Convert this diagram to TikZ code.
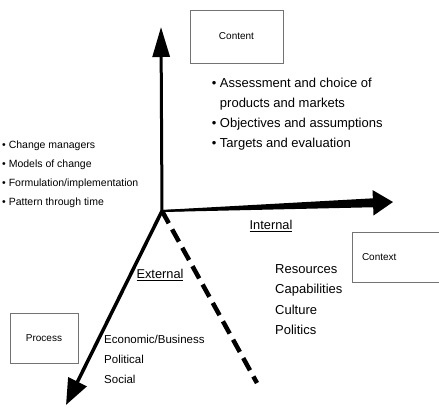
\documentclass[tikz,border=0pt]{standalone}
\usepackage{fontspec}
\setmainfont{Liberation Sans}
\usepackage{tikz}
\usetikzlibrary{arrows.meta, positioning, calc}
\tikzset{
    box/.style={rectangle, draw=black!55, line width=0.8pt, minimum width=93pt, minimum height=53pt, text centered, font=\fontsize{10}{12}\selectfont},
    axis/.style={line width=3pt, -{Triangle[length=30pt,width=17pt]}},
    list/.style={align=left, inner sep=0pt, anchor=north west},
    side/.style={inner sep=0pt, font=\fontsize{12.8}{15}\selectfont}
}

\begin{document}
\begin{tikzpicture}[x=1pt, y=-1pt]
    \useasboundingbox (0,0) rectangle (439,407);
    \coordinate (o) at (162,211);
    \coordinate (up) at (161,27);
    \coordinate (rt) at (393,202);
    \coordinate (dl) at (66,405);
    \coordinate (dash) at (257,383);

    \node (content) [box] at (236.5,36.5) {Content};
    \node (context) [box, minimum width=87pt, minimum height=50pt, text width=67pt, inner xsep=10pt, align=left] at (395.5,257) {Context};
    \node (process) [box, minimum width=68pt, minimum height=50pt] at (44,338) {Process};

    \draw [axis] (o) -- (up);
    % widening shaft towards the head
    \draw [axis, line width=2pt, -{Triangle[length=20pt,width=25pt]}] (o) -- (rt);
    \fill ($(o)+(0,-1)$) -- ($(rt)!18pt!(o)+(0,-4.5)$) -- ($(rt)!18pt!(o)+(0,4.5)$) -- ($(o)+(0,1)$) -- cycle;
    \draw [axis, line width=3.5pt, -{Triangle[length=26pt,width=20pt]}] (o) -- (dl);
    \draw [line width=4.5pt, dash pattern=on 14pt off 7pt] (o) -- (dash);

    \node (contentlist) [list, font=\fontsize{13}{20}\selectfont, below right=14pt and 22pt of content.south west]
        {\textbullet\ Assessment and choice of\\ \phantom{\textbullet\ }products and markets\\ \textbullet\ Objectives and assumptions\\ \textbullet\ Targets and evaluation};
    \node (processlist) [list, font=\fontsize{10.5}{19}\selectfont] at (2,141)
        {\textbullet\ Change managers\\ \textbullet\ Models of change\\ \textbullet\ Formulation/implementation\\ \textbullet\ Pattern through time};
    \node (internallist) [list, font=\fontsize{13}{20.5}\selectfont] at (275,264)
        {Resources\\ Capabilities\\ Culture\\ Politics};
    \node (externallist) [list, font=\fontsize{11.5}{20}\selectfont] at (104,335)
        {Economic/Business\\ Political\\ Social};

    \node (internal) [side] at (271,226) {\underline{Internal}};
    \node (external) [side] at (160,275) {\underline{External}};
\end{tikzpicture}
\end{document}
